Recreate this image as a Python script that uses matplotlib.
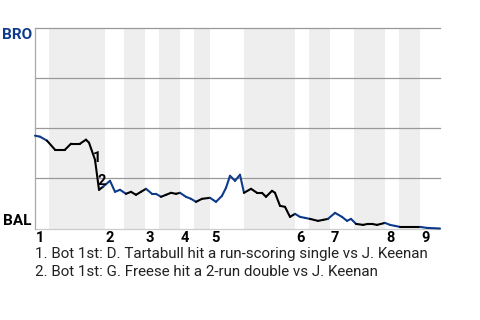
import matplotlib
matplotlib.use('Agg')
import matplotlib.pyplot as plt

plt.rcParams['font.family'] = ['Roboto', 'DejaVu Sans']

# win probability for BRO (1 = BRO wins, 0 = BAL wins), by game event
events = [0, 1, 2.4, 4, 6, 7.2, 9, 10.2, 10.8, 12, 12.8, 13.6, 15, 16, 17, 18.2, 19.2, 20.2,
          21.2, 22.2, 23.4, 24.2, 25.2, 26.2, 27.2, 28.2, 29, 30.2, 31.2, 32.2, 33.4, 35, 36.2,
          37.4, 38.2, 39, 40, 41, 41.8, 43.2, 44.4, 45.4, 46.2, 47.4, 48, 49, 50, 51, 52, 53,
          54, 55, 56.6, 57.6, 58.6, 60, 61.4, 62.4, 63.2, 64.2, 65.6, 66.6, 67.4, 68.4, 70, 71,
          72, 73, 77, 78.4, 81]
win_prob = [0.463, 0.458, 0.438, 0.393, 0.393, 0.423, 0.423, 0.443, 0.428, 0.343, 0.193,
            0.208, 0.238, 0.183, 0.193, 0.173, 0.183, 0.168, 0.183, 0.198, 0.173, 0.173, 0.158,
            0.168, 0.178, 0.173, 0.178, 0.158, 0.148, 0.133, 0.148, 0.153, 0.133, 0.163, 0.203,
            0.263, 0.238, 0.268, 0.178, 0.198, 0.178, 0.178, 0.158, 0.188, 0.178, 0.113, 0.108,
            0.058, 0.073, 0.058, 0.053, 0.048, 0.038, 0.043, 0.048, 0.078, 0.058, 0.038, 0.048,
            0.023, 0.018, 0.023, 0.023, 0.018, 0.028, 0.018, 0.013, 0.008, 0.008, 0.003, 0.0]

# half-inning boundaries (top 1st start ... end of game)
half_starts = [0, 2.8, 14, 17.8, 22, 24.8, 29, 31.8, 35, 41.8, 52, 54.8, 59, 63.8, 70, 72.8, 77, 81]
innings = ['1', '2', '3', '4', '5', '6', '7', '8', '9']

notes = ['1. Bot 1st: D. Tartabull hit a run-scoring single vs J. Keenan',
         '2. Bot 1st: G. Freese hit a 2-run double vs J. Keenan']
note_marks = [(12.5, 0.35, '1'), (13.4, 0.238, '2')]

blue = '#0e3a8a'

fig = plt.figure(figsize=(4.8, 3.2), dpi=100)
ax = fig.add_axes([35 / 480, (320 - 228.5) / 320, 405 / 480, 200.5 / 320])
ax.set_xlim(0, half_starts[-1])
ax.set_ylim(0, 1)
ax.axis('off')

# shaded bottom halves
bottoms = []
for i in range(1, len(half_starts) - 1, 2):
    ax.axvspan(half_starts[i], half_starts[i + 1], color='#eeeeee', lw=0, zorder=0)
    bottoms.append((half_starts[i], half_starts[i + 1]))

for g in [0.25, 0.5, 0.75, 1.0]:
    ax.axhline(g, color='#999999', lw=0.9, zorder=1, clip_on=False)
ax.axhline(0, color='#cccccc', lw=0.9, zorder=1, clip_on=False)
ax.axvline(0, color='#aaaaaa', lw=0.9, zorder=1, clip_on=False)

# line coloured by which team is batting
for i in range(len(events) - 1):
    mid = (events[i] + events[i + 1]) / 2
    c = blue
    for a, b in bottoms:
        if a <= mid < b:
            c = 'black'
    ax.plot(events[i:i + 2], win_prob[i:i + 2], color=c, lw=1.5, zorder=3,
            solid_capstyle='round', clip_on=False)

for x, y, t in note_marks:
    ax.text(x, y, t, fontsize=10.5, fontweight='bold', ha='center', va='center', zorder=4)

fig.text(32 / 480, 1 - 35 / 320, 'BRO', color=blue, fontsize=11, fontweight='bold',
         ha='right', va='center')
fig.text(31 / 480, 1 - 221 / 320, 'BAL', color='black', fontsize=11, fontweight='bold',
         ha='right', va='center')

tops = half_starts[0:-1:2]
for x, lab in zip(tops, innings):
    ax.text(x + 0.2, -0.048, lab, fontsize=10.5, fontweight='bold', ha='left', va='center',
            clip_on=False)

fig.text(35 / 480, 1 - 254 / 320, notes[0], fontsize=10.9, color='#222222', va='center')
fig.text(35 / 480, 1 - 272 / 320, notes[1], fontsize=10.9, color='#222222', va='center')

fig.savefig('out.png', dpi=100)
